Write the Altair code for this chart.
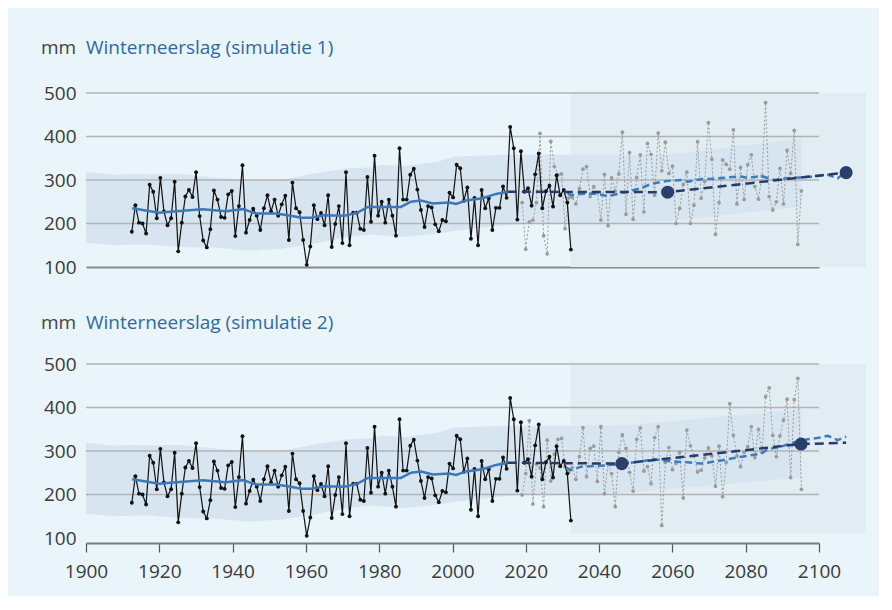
import altair as alt
import pandas as pd
import numpy as np

# ---------------- data ----------------
# black series (observed + continuation), evenly spaced between these years
obs_start, obs_end = 1912.5, 2032.3
obs_vals = [181, 242, 202, 200, 177, 289, 273, 212, 305, 228, 196, 212, 296, 136, 202,
            262, 277, 261, 318, 217, 161, 145, 187, 276, 255, 215, 213, 267, 275, 171,
            240, 334, 179, 208, 234, 218, 185, 235, 265, 228, 255,
            218, 244, 264, 162, 294, 235, 226, 162, 105, 147, 242, 210, 224, 196, 265,
            146, 199, 240, 155, 318, 150, 225, 225, 188, 185, 307, 204, 356, 218, 250,
            202, 255, 218, 172, 373, 255, 255, 312, 326, 278, 231,
            192, 240, 237, 198, 182, 208, 205, 271, 260, 335, 327, 252, 283, 165, 259,
            150, 277, 235, 258, 185, 236, 236, 285, 259, 422, 373, 209, 366, 273, 281,
            241, 313, 361, 235, 274, 287, 239, 311, 265, 277, 248, 140]

# grey dotted simulated series
proj_start, proj_end = 2019.0, 2095.2
sim1_vals = [248, 141, 204, 208, 248, 407, 172, 130, 389, 331, 312,
             314, 188, 259, 260, 245, 280, 325, 331, 262, 285, 271, 208, 313, 195, 305,
             275, 314, 410, 221, 363, 210, 306, 358, 227, 384, 359, 265, 408, 321, 387,
             315, 332, 200, 235, 290, 318, 200, 242, 388, 258, 297, 432, 348, 175, 248,
             346, 336, 325, 415, 245, 329, 255, 335, 358, 285, 256, 309, 478, 262, 231,
             250, 327, 245, 368, 315, 414, 152, 275]
sim2_vals = [199, 248, 370, 178, 270, 261, 172, 325, 231, 293, 327,
             329, 264, 251, 262, 235, 287, 354, 241, 306, 311, 230, 356, 202, 270, 248,
             172, 297, 337, 306, 251, 208, 327, 353, 254, 264, 225, 331, 356, 129, 274,
             308, 257, 272, 297, 192, 348, 312, 289, 252, 256, 284, 307, 289, 219, 311,
             195, 274, 409, 336, 289, 264, 297, 310, 356, 285, 350, 297, 425, 445, 336,
             287, 335, 371, 419, 239, 418, 467, 212]

# smoothed observed trend (solid blue)
trend_years = [1912.6, 1920.0, 1924.6, 1931.8, 1938.2, 1942.8, 1946.4, 1951.8, 1955.9,
               1958.7, 1961.4, 1965.0, 1970.5, 1974.1, 1976.9, 1980.5, 1985.9, 1988.7,
               1991.4, 1994.6, 1999.1, 2001.0, 2003.7, 2008.2, 2011.9, 2015.1]
trend_vals = [235, 225, 228, 233, 228, 233, 223, 223, 218, 213, 213, 219, 218, 225, 238,
              238, 238, 250, 253, 246, 248, 245, 253, 258, 268, 273]

# dark dashed scenario line and its large markers
navy1_years = [2015.1, 2058.7, 2107.4]
navy1_vals = [273, 272, 317]
navy2_years = [2015.1, 2046.2, 2095.1, 2107.4]
navy2_vals = [273, 271, 316, 319]
dots1_years = [2058.7, 2107.4]
dots1_vals = [272, 317]
dots2_years = [2046.2, 2095.1]
dots2_vals = [271, 316]

# smoothed simulation (blue dashed)
smooth1_years = [2031.4, 2032.3, 2035.1, 2038.7, 2042.3, 2047.8, 2051.4, 2054.2, 2058.7,
                 2062.3, 2064.2, 2067.8, 2071.4, 2075.1, 2078.7, 2080.5, 2084.2, 2087.8,
                 2091.5, 2095.1, 2098.7, 2102.4, 2105.1, 2107.4]
smooth1_vals = [269, 265, 268, 269, 263, 273, 281, 291, 298, 300, 296, 302, 303, 306, 308,
                305, 309, 300, 304, 306, 308, 312, 304, 319]
smooth2_years = [2031.0, 2032.3, 2035.1, 2040.5, 2046.0, 2051.4, 2055.1, 2059.6, 2064.2,
                 2067.8, 2072.3, 2076.9, 2080.5, 2084.2, 2086.0, 2089.6, 2093.3, 2096.9,
                 2100.5, 2102.4, 2105.1, 2107.4]
smooth2_vals = [262, 256, 264, 266, 270, 276, 281, 276, 274, 271, 277, 284, 289, 294, 304,
                310, 320, 327, 331, 335, 325, 333]

# uncertainty band (observed period + projection)
band_years = [1900, 1907.7, 1912, 1916.8, 1925.9, 1935.0, 1944.1, 1953.2, 1962.3, 1971.4,
              1977.8, 1980.5, 1986.9, 1996.0, 2000.5, 2005.0, 2014.1, 2020.0, 2032.3]
band_lo = [156, 150, 151, 152, 146, 145, 138, 142, 154, 169, 175, 173, 169, 177, 183, 188,
           196, 200, 200]
band_hi = [319, 312, 314, 313, 314, 306, 300, 300, 315, 327, 329, 335, 332, 342, 354, 355,
           358, 358, 358]
pband1_years = [2058.7, 2095.2]
pband1_lo = [205, 239]
pband1_hi = [358, 396]
pband2_years = [2046.2, 2095.2]
pband2_lo = [203, 239]
pband2_hi = [358, 396]

# projection period box
box1 = [2032.3, 2112.8, 100, 500]
box2 = [2032.3, 2112.8, 110, 500]

grid_vals = [200, 300, 400, 500]
y_ticks = [100, 200, 300, 400, 500]
x_ticks = [1900, 1920, 1940, 1960, 1980, 2000, 2020, 2040, 2060, 2080, 2100]
titles = ["Winterneerslag (simulatie 1)", "Winterneerslag (simulatie 2)"]
unit = "mm"

# ---------------- chart ----------------
W, H = 733, 174
FONT = "Open Sans"
FS = 19
xs = alt.Scale(domain=[1900, 2100], nice=False, zero=False)
ys = alt.Scale(domain=[100, 500], nice=False, zero=False)

obs_df = pd.DataFrame({"x": np.linspace(obs_start, obs_end, len(obs_vals)), "y": obs_vals})


def panel(title, sim_vals, smooth_y, smooth_v, navy_y, navy_v, dot_y, dot_v,
          pb_y, pb_lo, pb_hi, box, show_x, title_y):
    sim_df = pd.DataFrame({"x": np.linspace(proj_start, proj_end, len(sim_vals)), "y": sim_vals})
    band_df = pd.DataFrame({"x": band_years + pb_y, "lo": band_lo + pb_lo, "hi": band_hi + pb_hi})
    box_df = pd.DataFrame({"x": [box[0]], "x2": [box[1]], "y": [box[2]], "y2": [box[3]]})
    grid_df = pd.DataFrame({"y": grid_vals, "x": [1900] * 4, "x2": [2100] * 4})

    if show_x:
        xaxis = alt.Axis(values=x_ticks, format="d", grid=False, title=None, offset=5,
                         domainColor="#7a7a7a", domainWidth=2, tickColor="#555555",
                         tickSize=9, tickWidth=1.2, labelFont=FONT, labelFontSize=FS,
                         labelColor="#3a3a3a", labelPadding=10, labelFlush=False)
    else:
        xaxis = alt.Axis(values=x_ticks, grid=False, title=None, labels=False,
                         ticks=False, domainColor="#8a8a8a", domainWidth=2)
    yaxis = alt.Axis(values=y_ticks, grid=False, ticks=False, domain=False, title=None,
                     labelFont=FONT, labelFontSize=FS, labelColor="#3a3a3a", labelPadding=10)

    def X(f="x"):
        return alt.X(f + ":Q", scale=xs, axis=xaxis)

    def Y(f="y"):
        return alt.Y(f + ":Q", scale=ys, axis=yaxis)

    box_l = alt.Chart(box_df).mark_rect(color="#e2edf3").encode(
        x=X(), x2="x2:Q", y=Y(), y2="y2:Q")
    band_l = alt.Chart(band_df).mark_area(color="#d6e5ef").encode(
        x=X(), y=Y("lo"), y2="hi:Q")
    grid_l = alt.Chart(grid_df).mark_rule(color="#b3b3b3", strokeWidth=1.5).encode(
        x=X(), x2="x2:Q", y=Y())
    sim_line = alt.Chart(sim_df).mark_line(color="#9b9b9b", strokeWidth=1,
                                           strokeDash=[2, 2]).encode(x=X(), y=Y())
    sim_pts = alt.Chart(sim_df).mark_circle(color="#9b9b9b", size=14, opacity=1).encode(
        x=X(), y=Y())
    obs_line = alt.Chart(obs_df).mark_line(color="#111111", strokeWidth=1.2).encode(
        x=X(), y=Y())
    obs_pts = alt.Chart(obs_df).mark_circle(color="#111111", size=15, opacity=1).encode(
        x=X(), y=Y())
    trend_l = alt.Chart(pd.DataFrame({"x": trend_years, "y": trend_vals})).mark_line(
        color="#3a78b8", strokeWidth=2.5).encode(x=X(), y=Y())
    smooth_l = alt.Chart(pd.DataFrame({"x": smooth_y, "y": smooth_v})).mark_line(
        color="#3a7ec0", strokeWidth=2.5, strokeDash=[7, 4]).encode(x=X(), y=Y())
    navy_l = alt.Chart(pd.DataFrame({"x": navy_y, "y": navy_v})).mark_line(
        color="#263b66", strokeWidth=2.5, strokeDash=[9, 5]).encode(x=X(), y=Y())
    dots_l = alt.Chart(pd.DataFrame({"x": dot_y, "y": dot_v})).mark_circle(
        color="#2a3f6b", size=170, opacity=1).encode(x=X(), y=Y())
    unit_t = alt.Chart(pd.DataFrame({"t": [unit]})).mark_text(
        align="left", baseline="middle", font=FONT, fontSize=FS, color="#444444").encode(
        x=alt.value(-45), y=alt.value(title_y), text="t:N")
    title_t = alt.Chart(pd.DataFrame({"t": [title]})).mark_text(
        align="left", baseline="middle", font=FONT, fontSize=FS, color="#2f6aa0").encode(
        x=alt.value(0), y=alt.value(title_y), text="t:N")

    return alt.layer(box_l, band_l, grid_l, sim_line, sim_pts, obs_line, obs_pts,
                     trend_l, smooth_l, navy_l, dots_l, unit_t, title_t).properties(
        width=W, height=H)


top = panel(titles[0], sim1_vals, smooth1_years, smooth1_vals, navy1_years, navy1_vals,
            dots1_years, dots1_vals, pband1_years, pband1_lo, pband1_hi, box1, False, -45)
bottom = panel(titles[1], sim2_vals, smooth2_years, smooth2_vals, navy2_years, navy2_vals,
               dots2_years, dots2_vals, pband2_years, pband2_lo, pband2_hi, box2, True, -41)

chart = alt.vconcat(top, bottom, spacing=37).properties(
    background="#eaf4fb",
    padding={"left": 33, "top": 31, "right": 13, "bottom": 15},
).configure_view(stroke=None)

chart.save("out.html", embed_options={"renderer": "svg", "actions": False})
